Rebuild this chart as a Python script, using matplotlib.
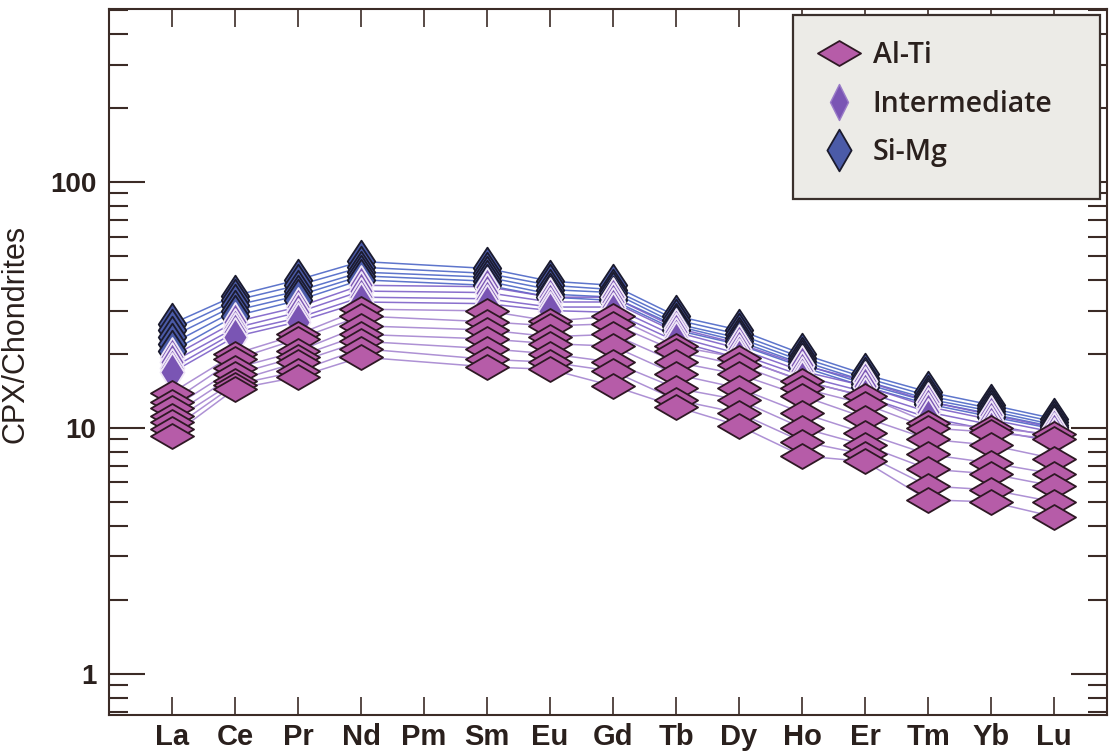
import numpy as np
import matplotlib
matplotlib.use("Agg")
import matplotlib.pyplot as plt
from matplotlib.path import Path
from matplotlib.lines import Line2D
from matplotlib.patches import Rectangle

# REE order, Pm has no analyses
elements = ["La", "Ce", "Pr", "Nd", "Pm", "Sm", "Eu", "Gd",
            "Tb", "Dy", "Ho", "Er", "Tm", "Yb", "Lu"]
measured = ["La", "Ce", "Pr", "Nd", "Sm", "Eu", "Gd",
            "Tb", "Dy", "Ho", "Er", "Tm", "Yb", "Lu"]

# chondrite-normalised clinopyroxene, one row per sample
al_ti = [
    [13.9, 20.0, 24.0, 30.4, 29.9, 27.2, 28.4, 21.5, 19.3, 15.5, 13.5, 10.5, 10.0, 9.4],
    [12.8, 19.0, 23.0, 28.5, 27.0, 26.0, 26.5, 20.5, 18.0, 14.5, 12.5, 10.0, 9.6, 9.0],
    [12.0, 17.5, 20.5, 26.0, 25.0, 23.5, 24.0, 18.5, 16.5, 13.5, 11.0, 9.0, 8.5, 7.5],
    [11.2, 16.5, 19.5, 24.0, 23.0, 22.0, 21.5, 16.5, 14.5, 11.5, 9.5, 7.8, 7.2, 6.5],
    [10.6, 15.5, 18.5, 22.5, 21.0, 20.0, 18.5, 14.5, 13.0, 10.0, 8.5, 6.8, 6.5, 5.8],
    [9.9, 15.0, 17.0, 21.0, 19.0, 18.5, 17.0, 13.0, 11.5, 8.8, 7.8, 5.8, 5.6, 5.0],
    [9.3, 14.4, 16.1, 19.4, 17.7, 17.3, 14.8, 12.2, 10.2, 7.7, 7.3, 5.1, 5.0, 4.35],
]
intermediate = [
    [19.5, 27.0, 31.0, 38.0, 37.5, 34.0, 34.0, 25.5, 22.0, 18.0, 15.5, 12.8, 11.3, 10.0],
    [18.5, 25.5, 29.5, 36.0, 35.5, 32.5, 32.5, 24.5, 21.0, 17.0, 14.8, 12.2, 10.8, 9.6],
    [17.5, 24.5, 28.0, 34.0, 33.5, 31.0, 31.0, 23.5, 20.0, 16.3, 14.0, 11.6, 10.3, 9.2],
    [16.8, 23.5, 27.0, 32.5, 32.0, 30.0, 29.5, 22.5, 19.2, 15.6, 13.4, 11.0, 9.8, 8.8],
]
si_mg = [
    [26.5, 34.5, 40.0, 47.5, 44.5, 39.5, 38.0, 28.5, 25.0, 20.0, 16.5, 14.0, 12.4, 10.9],
    [25.0, 33.0, 38.0, 45.0, 42.5, 38.0, 36.5, 27.5, 24.0, 19.3, 16.0, 13.5, 12.0, 10.6],
    [23.5, 31.5, 36.0, 43.0, 41.0, 36.5, 35.5, 26.5, 23.2, 18.7, 15.5, 13.1, 11.7, 10.3],
    [22.0, 30.0, 34.5, 41.5, 39.5, 35.0, 34.0, 26.0, 22.5, 18.2, 15.1, 12.8, 11.4, 10.1],
    [20.5, 28.5, 33.0, 40.0, 38.0, 34.0, 33.0, 25.0, 21.8, 17.7, 14.7, 12.5, 11.1, 9.9],
]

xpos = [elements.index(e) for e in measured]


def diamond(w, h):
    return Path([(-w, 0), (0, h), (w, 0), (0, -h), (-w, 0)],
                [Path.MOVETO, Path.LINETO, Path.LINETO, Path.LINETO, Path.CLOSEPOLY])


wide = diamond(1, 0.58)
tall = diamond(0.66, 1)
slim = diamond(0.62, 1)

groups = [
    # data, line colour, fill, edge, marker, size, zorder
    (si_mg, "#4c66c6", "#4b5ba8", "#1b1b2e", tall, 30, 3),
    (intermediate, "#7d60c8", "#7a55b4", "#efe6f7", slim, 28, 4),
    (al_ti, "#a585d0", "#b65ca8", "#2e1824", wide, 31, 5),
]

fig = plt.figure(figsize=(11.09, 7.53), dpi=100)
ax = fig.add_axes([109 / 1109, 38 / 753, 998 / 1109, 706 / 753])

for rows, lc, fc, ec, mk, ms, z in groups:
    for r in rows:
        ax.plot(xpos, r, color=lc, lw=1.1, alpha=0.9, zorder=2)
    for r in rows:
        ax.plot(xpos, r, linestyle="none", marker=mk, markersize=ms,
                markerfacecolor=fc, markeredgecolor=ec, markeredgewidth=1.3,
                zorder=z)

ax.set_yscale("log")
ax.set_ylim(0.68, 505)
ax.set_xlim(-1.0, 14.84)

spine_c = "#3b2b26"
for s in ax.spines.values():
    s.set_color(spine_c)
    s.set_linewidth(1.5)

ax.set_xticks(range(len(elements)))
ax.set_xticklabels(elements, family=["Liberation Sans Narrow", "Liberation Sans"],
                   fontsize=21, fontweight="bold", color="#2a201d")
ax.set_yticks([1, 10, 100])
ax.set_yticklabels(["1", "10", "100"], family=["Liberation Sans", "DejaVu Sans"],
                   fontsize=20, fontweight="bold", color="#2a201d")
ax.tick_params(axis="x", which="major", direction="in", length=13, width=1.2,
               top=True, bottom=True, color=spine_c, pad=6)
ax.tick_params(axis="y", which="major", direction="in", length=26, width=1.5,
               left=True, right=True, color=spine_c, pad=9)
ax.tick_params(axis="y", which="minor", direction="in", length=13.5, width=1.5,
               left=True, right=True, color=spine_c)
ax.tick_params(axis="x", which="minor", bottom=False, top=False)

ax.set_ylabel("CPX/Chondrites", family=["Liberation Sans Narrow", "Liberation Sans"],
              fontsize=22, color="#2a201d")
ax.yaxis.set_label_coords(-0.079, 0.54)

# legend box
ax.add_patch(Rectangle((0.6854, 0.7309), 0.3076, 0.2606, transform=ax.transAxes,
                       facecolor="#ecebe7", edgecolor="#3a302c", linewidth=1.6,
                       zorder=10))
handles = [
    Line2D([], [], linestyle="none", marker=wide, markersize=31,
           markerfacecolor="#b65ca8", markeredgecolor="#2e1824", markeredgewidth=1.3),
    Line2D([], [], linestyle="none", marker=diamond(0.5, 1), markersize=26,
           markerfacecolor="#7a55b4", markeredgecolor="#9a7cc8", markeredgewidth=1.0),
    Line2D([], [], linestyle="none", marker=diamond(0.58, 1), markersize=30,
           markerfacecolor="#4b5ba8", markeredgecolor="#1b1b2e", markeredgewidth=1.3),
]
leg = ax.legend(handles, ["Al-Ti", "Intermediate", "Si-Mg"], loc="center",
                bbox_to_anchor=(0.829, 0.865), frameon=False,
                prop={"family": ["Open Sans", "DejaVu Sans"], "weight": "semibold",
                      "size": 20.5},
                labelspacing=0.68, handlelength=1.3, handletextpad=0.55,
                borderpad=0)
leg.set_zorder(11)
for t in leg.get_texts():
    t.set_color("#2a201d")

fig.savefig("out.png", dpi=100)
